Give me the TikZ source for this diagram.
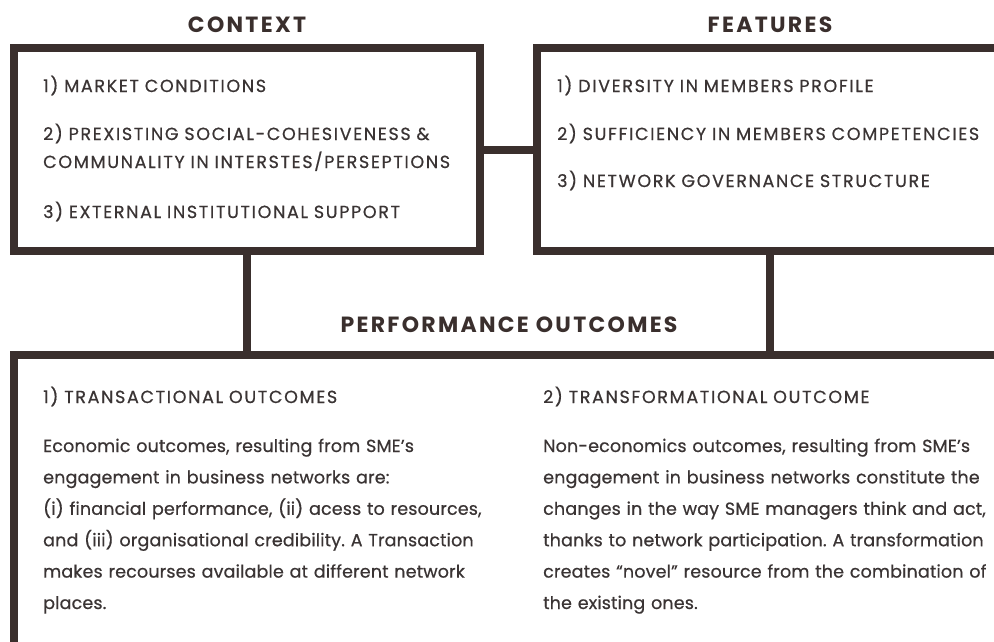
\documentclass[tikz,border=0pt]{standalone}
\usepackage{fontspec}
\setmainfont{Poppins}
\newfontfamily\textface{Poppins}[FakeBold=0.6]
\usepackage{tikz}
\usetikzlibrary{positioning}

\definecolor{framebrown}{HTML}{3A2F2D}
\definecolor{inktext}{HTML}{3A3434}

\newcommand{\boxw}{466pt}
\newcommand{\boxh}{203pt}
\newcommand{\framew}{8pt}
\newcommand{\itemfont}{\textface\fontsize{17.5}{28}\selectfont\addfontfeature{LetterSpace=9.5}}
\newcommand{\bodyfont}{\textface\fontsize{17.5}{31.4}\selectfont\addfontfeature{LetterSpace=0.9}\frenchspacing}
\newcommand{\titlefont}{\fontsize{22}{24}\selectfont\bfseries\addfontfeature{LetterSpace=10.5}}

\begin{document}
\begin{tikzpicture}[x=1pt, y=-1pt,
  frame/.style={rectangle, draw=framebrown, line width=\framew, fill=white,
    inner sep=0pt, outer sep=0pt, minimum width=\boxw, minimum height=\boxh},
  link/.style={draw=framebrown, line width=\framew},
  title/.style={text=framebrown, font=\titlefont, inner sep=0pt, anchor=base},
  item/.style={text=inktext, font=\itemfont, inner sep=0pt, anchor=base west,
    text width=480pt, align=left},
  body/.style={item, font=\bodyfont}]

  \clip (0,0) rectangle (994,641);

  % upper boxes
  \node [frame, anchor=north west] (ctxbox) at (14,48) {};
  \node [frame, right=57pt of ctxbox] (featbox) {};

  % lower box, runs off the page
  \node [frame, anchor=north west, minimum width=1000pt, minimum height=320pt] (outbox) at (14,355) {};

  % headings
  \node [title] (ctxtitle) at ([yshift=16pt]ctxbox.north) {CONTEXT};
  \node [title] (feattitle) at ([yshift=16pt]featbox.north) {FEATURES};
  \node [title] (outtitle) at (509,332) {PERFORMANCE OUTCOMES};

  % context items
  \node [item] (ctxa) at (43,92) {1) MARKET CONDITIONS};
  \node [item] (ctxb) at (43,140) {2) PREXISTING SOCIAL-COHESIVENESS \&\\
    COMMUNALITY IN INTERSTES/PERSEPTIONS};
  \node [item] (ctxc) at (43,218) {3) EXTERNAL INSTITUTIONAL SUPPORT};

  % feature items
  \node [item] (feata) at (557,92) {1) DIVERSITY IN MEMBERS PROFILE};
  \node [item] (featb) at (557,140) {2) SUFFICIENCY IN MEMBERS COMPETENCIES};
  \node [item] (featc) at (557,187) {3) NETWORK GOVERNANCE STRUCTURE};

  % outcomes
  \node [item] (transhead) at (43,403) {1) TRANSACTIONAL OUTCOMES};
  \node [body] (transtext) at (43,452) {Economic outcomes, resulting from SME’s\\
    engagement in business networks are:\\
    (i) financial performance, (ii) acess to resources,\\
    and (iii) organisational credibility. A Transaction\\
    makes recourses available at different network\\
    places.};

  \node [item] (transfhead) at (543,403) {2) TRANSFORMATIONAL OUTCOME};
  \node [body] (transftext) at (543,452) {Non-economics outcomes, resulting from SME’s\\
    engagement in business networks constitute the\\
    changes in the way SME managers think and act,\\
    thanks to network participation. A transformation\\
    creates “novel” resource from the combination of\\
    the existing ones.};

  % connectors
  \draw [link] (ctxbox.east) -- (featbox.west);
  \draw [link] (ctxbox.south) -- (ctxbox.south |- outbox.north);
  \draw [link] (featbox.south) -- (featbox.south |- outbox.north);

\end{tikzpicture}
\end{document}
